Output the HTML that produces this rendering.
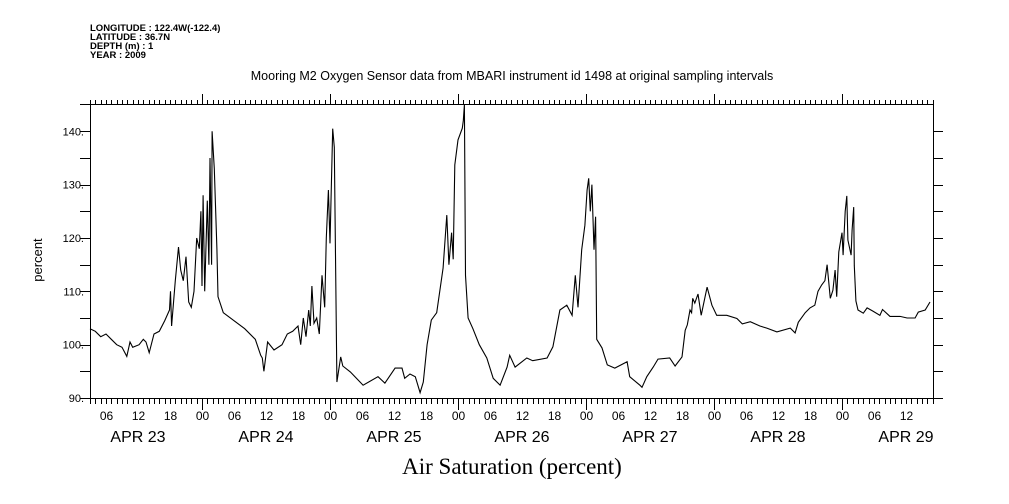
<!DOCTYPE html>
<html><head><meta charset="utf-8"><style>
body{margin:0;background:#fff;width:1009px;height:504px;overflow:hidden}
svg{display:block;font-family:"Liberation Sans",sans-serif}
</style></head><body>
<svg id="chart" width="1009" height="504">
<g font-size="9.5" font-weight="bold" fill="#000">
<text x="90" y="31">LONGITUDE : 122.4W(-122.4)</text>
<text x="90" y="40">LATITUDE : 36.7N</text>
<text x="90" y="49">DEPTH (m) : 1</text>
<text x="90" y="58">YEAR : 2009</text>
</g>
<text x="512" y="80" text-anchor="middle" font-size="12.5">Mooring M2 Oxygen Sensor data from MBARI instrument id 1498 at original sampling intervals</text>
<text transform="translate(42,260) rotate(-90)" text-anchor="middle" font-size="13">percent</text>
<text x="512" y="474" text-anchor="middle" font-size="23" font-family="Liberation Serif,serif">Air Saturation (percent)</text>
<g id="axes"></g>
<path id="line" fill="none" stroke="#000" stroke-width="1.1"/>
</svg>
<script>
// hours since APR 23 00:00
const hours=[3,4,5,6,7,8,9,9.9,10.5,11,12.2,13,13.5,14.1,15,16,17,17.9,18.1,18.3,19,19.6,20,20.5,21,21.5,22,22.5,23,23.5,23.8,24,24.2,24.5,25,25.3,25.5,25.8,25.9,26.3,26.8,27,28,30,32,34,35,35.3,35.6,36.3,37.5,39,40,41,42,42.5,43,43.5,44,44.3,44.6,45,45.5,46,46.5,47,47.3,47.7,48,48.5,48.8,49.3,50,50.4,51.8,54.2,57,58.3,60.2,61.5,62,63,64,64.9,65.5,66.2,67,68,69.2,69.9,70.3,70.8,71.1,71.4,72,72.8,73,73.2,73.4,73.9,74.8,76,77.4,78.6,79.9,81.2,81.7,82.7,84.9,86,88.7,89.8,91.1,92.4,93.4,94,94.5,95.2,95.8,96.2,96.5,96.8,97.1,97.5,97.8,98,99,100,101.4,103.7,104.2,106.1,106.5,107.4,108.6,109.5,111.7,112.7,114,114.6,115,115.5,115.8,116,116.4,117,117.6,118.7,119.6,120.5,122.4,124.3,125.3,126.8,128.6,129.9,131.8,134.3,135.2,135.8,137.1,138,138.9,139.5,140.2,140.8,141.2,141.8,142.3,142.7,143,143.4,144,144.2,144.6,144.9,145.1,145.7,145.9,146.2,146.3,146.6,147,148,148.7,149.8,151.1,151.6,153,154.9,156.2,157.7,158.3,159.6,160.5];
const values=[103,102.5,101.5,102,101,100,99.5,97.8,100.5,99.5,100,101,100.5,98.5,102,102.5,104.5,106.5,110,103.5,112,118.3,114,112,116.5,108,107,110,120,118,125,111,128,110,127,115,135,115,140,133,118,109,106,104.5,103,101,98,97.5,95,100.5,99,100,102,102.5,103.5,100,105,101.5,106.5,103.5,111,104,105,102,113,107,120,129,119,140.5,137,93,97.7,96,94.9,92.4,94,92.8,95.6,95.6,93.7,94.5,94,91,93,100,104.6,106,114.4,124.3,115,121,116,133.7,138.4,140.6,142,145,113,105,103,100,97.5,93.7,92.4,95.8,98,95.8,97.5,97,97.5,99.6,106.5,107.4,105.5,113,107,117.8,122.4,129,131.2,125,130,117.8,124,101,99.4,96.2,95.6,96.8,94,92.4,92,94,95.8,97.3,97.5,96,97.7,102.7,103.7,106.5,106,108.7,107.8,109.5,105.5,110.8,107.4,105.5,105.5,104.9,103.9,104.3,103.5,103.1,102.4,103.1,102.2,104.2,106,106.9,107.4,110,111.2,112,115,108.7,110.2,114,109,117.4,121,116.8,125,127.9,119.6,116.8,121.5,125.8,114.8,108.2,106.5,105.9,106.9,106.3,105.5,106.6,105.3,105.3,105,105,106.1,106.5,108];
const yTicks=[90,100,110,120,130,140];
const dayLabels=["APR 23","APR 24","APR 25","APR 26","APR 27","APR 28","APR 29"];
const hourLabels=["00","06","12","18"];

const X0=90,X1=933,Y0=398,Y1=104;
const H0=3,H1=161.7;
function xs(h){return 74+h*128/24;}
function ys(v){return Y0-(v-90)*5.333;}
const ax=document.getElementById('axes');
const NS="http://www.w3.org/2000/svg";
function ln(x1,y1,x2,y2,name){const l=document.createElementNS(NS,'line');l.setAttribute('x1',x1);l.setAttribute('y1',y1);l.setAttribute('x2',x2);l.setAttribute('y2',y2);l.setAttribute('stroke','#000');l.setAttribute('stroke-width','1');


ax.appendChild(l);}
function tx(x,y,s,size,anchor,name){const t=document.createElementNS(NS,'text');t.setAttribute('x',x);t.setAttribute('y',y);t.setAttribute('font-size',size);t.setAttribute('text-anchor',anchor);t.textContent=s;


ax.appendChild(t);}
ln(X0,Y0+0.5,X1,Y0+0.5,'x-axis-bottom');
ln(80,Y1+0.5,X1,Y1+0.5,'x-axis-top');
ln(X0+0.5,Y1,X0+0.5,Y0+6,'y-axis-left');
ln(X1+0.5,Y1,X1+0.5,Y0+6,'y-axis-right');
for(let h=Math.ceil(H0);h<=H1;h++){const x=Math.round(xs(h))+0.5;const mid=h%24===0;
ln(x,Y0,x,Y0+(mid?12:6),'x-tick');ln(x,Y1,x,Y1-(mid?10:4),'x-tick-top');
if(h%6===0)tx(x,420,hourLabels[(h%24)/6],12,'middle','x-tick-label');}
for(let d=0;d<dayLabels.length;d++){tx(xs(d*24+12),442,dayLabels[d],16,'middle','day-label');}
for(let v=90;v<=140;v+=5){const y=Math.round(ys(v))+0.5;ln(80,y,X0,y,'y-tick');ln(X1,y,X1+10,y,'y-tick-right');}
yTicks.forEach(v=>tx(84,ys(v)+4,v+'.',11,'end','y-tick-label'));
let d='';hours.forEach((h,i)=>{d+=(i?'L':'M')+xs(h).toFixed(1)+' '+ys(values[i]).toFixed(1);});
document.getElementById('line').setAttribute('d',d);
</script>
</body></html>
